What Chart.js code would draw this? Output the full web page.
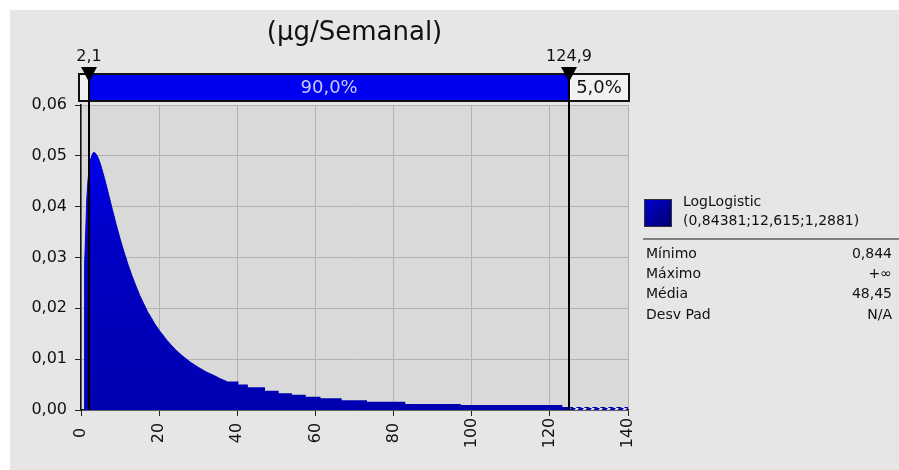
<!DOCTYPE html>
<html>
<head>
<meta charset="utf-8">
<script src="https://cdn.jsdelivr.net/npm/chart.js@4.4.1/dist/chart.umd.min.js"></script>
<style>
  html, body { margin: 0; padding: 0; background: #fff; }
  canvas { display: block; }
</style>
</head>
<body>
<canvas id="chart" width="899" height="470"></canvas>
<script>
// density (x in µg/Semanal, y = probability density)
// smooth part near the peak
const headX = [0.844, 0.87, 0.9, 1.0, 1.25, 1.5, 1.75, 2.0, 2.5, 3.0, 3.4, 4.0, 4.5, 5.0, 6.0, 7.0, 8.0, 9.0, 10, 11, 12, 13, 14, 15, 16, 17, 18, 19, 20, 22, 24, 26, 28, 30, 32, 34, 35.5, 37.3];
const headY = [0, 0.016, 0.021, 0.0286, 0.036, 0.0417, 0.0447, 0.0469, 0.0494, 0.0505, 0.0507, 0.0502, 0.0494, 0.0483, 0.0456, 0.0426, 0.0395, 0.0365, 0.0337, 0.0311, 0.0287, 0.0265, 0.0245, 0.0226, 0.0210, 0.0194, 0.0181, 0.0168, 0.0157, 0.0137, 0.0120, 0.0106, 0.0094, 0.0084, 0.0075, 0.0068, 0.0062, 0.0056];
// stepped part of the long tail
const stepX = [37.0, 40.3, 42.7, 47.1, 50.6, 54.0, 57.5, 61.3, 66.7, 73.2, 83.0, 97.2, 123.2, 124.9];
const stepY = [0.0056, 0.0050, 0.0045, 0.0038, 0.0033, 0.0030, 0.0026, 0.0023, 0.0019, 0.0016, 0.0012, 0.0010, 0.0006, 0.0006];
// hatched 5% tail
const tailX = [124.9, 140];
const tailY = [0.0006, 0.0006];

const xTickValues = [0, 20, 40, 60, 80, 100, 120, 140];
const markerValues = [2.1, 124.9];
const markerLabels = ["2,1", "124,9"];
const bandLabels = ["90,0%", "5,0%"];
const titleText = "(µg/Semanal)";
const fitName = "LogLogistic";
const fitParams = "(0,84381;12,615;1,2881)";
const statLabels = ["Mínimo", "Máximo", "Média", "Desv Pad"];
const statValues = ["0,844", "+∞", "48,45", "N/A"];

const FONT = "'DejaVu Sans', Verdana, sans-serif";
Chart.defaults.font.family = FONT;
Chart.defaults.font.size = 16;
Chart.defaults.color = "#111";

function hatchPattern() {
  const c = document.createElement("canvas");
  c.width = 8; c.height = 4;
  const g = c.getContext("2d");
  g.fillStyle = "#e4e4f2";
  g.fillRect(0, 0, 8, 4);
  g.fillStyle = "#0000b0";
  g.beginPath();
  g.moveTo(3, 0); g.lineTo(8, 0); g.lineTo(5, 4); g.lineTo(0, 4);
  g.closePath();
  g.fill();
  return g.createPattern(c, "repeat");
}

function blueFill(c) {
  const a = c.chart.chartArea;
  if (!a) return "#0000c0";
  const g = c.chart.ctx.createLinearGradient(0, a.top + 45, 0, a.bottom);
  g.addColorStop(0, "#0000ee");
  g.addColorStop(0.35, "#0000c4");
  g.addColorStop(1, "#0000b0");
  return g;
}

const decor = {
  id: "decor",
  beforeDraw(chart) {
    const { ctx, chartArea: a } = chart;
    ctx.save();
    ctx.fillStyle = "#fff";
    ctx.fillRect(0, 0, chart.width, chart.height);
    ctx.fillStyle = "#e6e6e6";
    ctx.fillRect(10, 10, chart.width - 10, chart.height - 10);
    ctx.fillStyle = "#d9d9d9";
    ctx.fillRect(a.left, a.top, a.right - a.left, a.bottom - a.top);
    ctx.restore();
  },
  afterDraw(chart) {
    const { ctx, chartArea: a } = chart;
    const xs = chart.scales.x;
    const ys = chart.scales.y;
    ctx.save();

    // title
    ctx.fillStyle = "#111";
    ctx.font = "26px " + FONT;
    ctx.textAlign = "center";
    ctx.textBaseline = "alphabetic";
    ctx.fillText(titleText, (a.left + a.right) / 2, 40);

    // x tick labels, rotated and centred
    ctx.font = "16px " + FONT;
    ctx.textBaseline = "middle";
    xTickValues.forEach(v => {
      ctx.save();
      ctx.translate(xs.getPixelForValue(v), 433);
      ctx.rotate(-Math.PI / 2);
      ctx.fillText(String(v), 0, 0);
      ctx.restore();
    });

    // probability band above the plot
    const boxL = xs.left - 2, boxR = xs.right + 1, boxT = 74, boxB = 101;
    const m1 = xs.getPixelForValue(markerValues[0]);
    const m2 = xs.getPixelForValue(markerValues[1]);
    ctx.fillStyle = "#f2f2f2";
    ctx.fillRect(boxL, boxT, boxR - boxL, boxB - boxT);
    ctx.fillStyle = "#0000f0";
    ctx.fillRect(m1, boxT, m2 - m1, boxB - boxT);
    ctx.strokeStyle = "#111";
    ctx.lineWidth = 2;
    ctx.strokeRect(boxL, boxT, boxR - boxL, boxB - boxT);
    ctx.font = "18px " + FONT;
    ctx.fillStyle = "#c8c8ff";
    ctx.fillText(bandLabels[0], (m1 + m2) / 2, 88);
    ctx.fillStyle = "#111";
    ctx.fillText(bandLabels[1], (m2 + boxR) / 2, 88);

    // marker lines, triangles and values
    ctx.font = "16px " + FONT;
    markerValues.forEach((v, i) => {
      const px = Math.round(xs.getPixelForValue(v));
      ctx.strokeStyle = "#000";
      ctx.lineWidth = 2;
      ctx.beginPath();
      ctx.moveTo(px, boxT);
      ctx.lineTo(px, ys.getPixelForValue(0));
      ctx.stroke();
      ctx.fillStyle = "#000";
      ctx.beginPath();
      ctx.moveTo(px - 8, 67);
      ctx.lineTo(px + 8, 67);
      ctx.lineTo(px, 82);
      ctx.closePath();
      ctx.fill();
      ctx.fillStyle = "#111";
      ctx.fillText(markerLabels[i], px, 57);
    });

    // legend
    const lg = ctx.createLinearGradient(644, 199, 672, 227);
    lg.addColorStop(0, "#0000d0");
    lg.addColorStop(1, "#000070");
    ctx.fillStyle = lg;
    ctx.fillRect(644, 199, 28, 28);
    ctx.strokeStyle = "#333";
    ctx.lineWidth = 1;
    ctx.strokeRect(644.5, 199.5, 27, 27);
    ctx.fillStyle = "#111";
    ctx.textAlign = "left";
    ctx.font = "14px " + FONT;
    ctx.fillText(fitName, 683, 202);
    ctx.fillText(fitParams, 683, 221);
    ctx.strokeStyle = "#808080";
    ctx.lineWidth = 2;
    ctx.beginPath();
    ctx.moveTo(643, 239);
    ctx.lineTo(899, 239);
    ctx.stroke();
    statLabels.forEach((s, i) => {
      const y = 254 + i * 20.3;
      ctx.textAlign = "left";
      ctx.fillText(s, 646, y);
      ctx.textAlign = "right";
      ctx.fillText(statValues[i], 892, y);
    });
    ctx.restore();
  }
};

const ctx = document.getElementById("chart");
new Chart(ctx, {
  type: "line",
  data: {
    datasets: [
      {
        label: "tail steps",
        data: stepX.map((x, i) => ({ x: x, y: stepY[i] })),
        stepped: true,
        fill: "origin",
        borderWidth: 0,
        pointRadius: 0,
        backgroundColor: blueFill,
      },
      {
        label: fitName,
        data: headX.map((x, i) => ({ x: x, y: headY[i] })),
        fill: "origin",
        tension: 0,
        borderWidth: 1,
        borderColor: "#0000c4",
        pointRadius: 0,
        backgroundColor: blueFill,
      },
      {
        label: "5%",
        data: tailX.map((x, i) => ({ x: x, y: tailY[i] })),
        stepped: true,
        fill: "origin",
        borderWidth: 0,
        pointRadius: 0,
        backgroundColor: hatchPattern(),
      },
    ],
  },
  options: {
    responsive: false,
    animation: false,
    layout: { padding: { top: 105, right: 271, left: 0, bottom: 0 } },
    plugins: { legend: { display: false }, tooltip: { enabled: false } },
    scales: {
      x: {
        type: "linear",
        min: 0,
        max: 140,
        afterFit: s => { s.height = 60; },
        ticks: { stepSize: 20, display: false },
        grid: { color: "#b2b2b2", tickLength: 6, tickColor: "#222", drawTicks: true },
        border: { color: "#111", width: 1.5 },
      },
      y: {
        min: 0,
        max: 0.06,
        afterFit: s => { s.width = 81; },
        ticks: {
          stepSize: 0.01,
          padding: 8,
          callback: v => v.toFixed(2).replace(".", ","),
        },
        grid: { color: "#b2b2b2", tickLength: 6, tickColor: "#222" },
        border: { color: "#111", width: 1.5 },
      },
    },
  },
  plugins: [decor],
});
</script>
</body>
</html>
